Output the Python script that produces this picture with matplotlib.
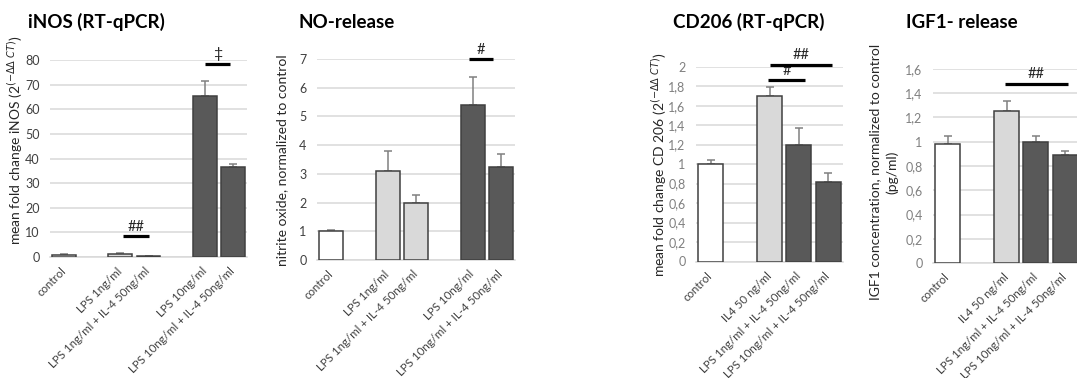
import numpy as np
import matplotlib.pyplot as plt

plt.rcParams['font.family'] = ['Lato', 'DejaVu Sans']

W, H = 1077, 378

# iNOS (RT-qPCR)
inos_labels = ['control', '', 'LPS 1ng/ml', 'LPS 1ng/ml + IL-4 50ng/ml', '',
               'LPS 10ng/ml', 'LPS 10ng/ml + IL-4 50ng/ml']
inos_mean = [1.0, np.nan, 1.3, 0.5, np.nan, 65.3, 36.5]
inos_err = [0.3, np.nan, 0.2, 0.1, np.nan, 6.2, 1.3]
inos_sig = [(2.1, 3.0, 8.5, '##'), (5.0, 5.9, 78.5, '‡')]

# NO-release
no_labels = inos_labels
no_mean = [1.0, np.nan, 3.1, 2.0, np.nan, 5.4, 3.25]
no_err = [0.04, np.nan, 0.68, 0.25, np.nan, 0.98, 0.45]
no_sig = [(4.86, 5.72, 7.0, '#')]

# CD206 (RT-qPCR)
cd_labels = ['control', '', 'IL4 50 ng/ml', 'LPS 1ng/ml + IL-4 50ng/ml',
             'LPS 10ng/ml + IL-4 50ng/ml']
cd_mean = [1.0, np.nan, 1.7, 1.2, 0.82]
cd_err = [0.04, np.nan, 0.09, 0.17, 0.09]
cd_sig = [(1.95, 3.2, 1.86, '#'), (2.02, 4.13, 2.02, '##')]

# IGF1- release
igf_labels = cd_labels
igf_mean = [0.98, np.nan, 1.25, 1.0, 0.89]
igf_err = [0.07, np.nan, 0.09, 0.05, 0.03]
igf_sig = [(1.95, 4.09, 1.48, '##')]

WHITE, LIGHT, DARK = '#ffffff', '#d9d9d9', '#595959'
cols7 = [WHITE, WHITE, LIGHT, LIGHT, WHITE, DARK, DARK]
cols5 = [WHITE, WHITE, LIGHT, DARK, DARK]

fig = plt.figure(figsize=(W / 100, H / 100), dpi=100)


def panel(px, labels, mean, err, colors, ymax, step, sig, tickcol, comma=False):
    l, r, y0, y1 = px
    ax = fig.add_axes([l / W, 1 - y0 / H, (r - l) / W, (y0 - y1) / H])
    x = np.arange(len(labels))
    ax.bar(x, mean, width=0.85, color=colors, edgecolor='#404040',
           linewidth=1.1, zorder=3)
    e = np.array(err)
    ax.errorbar(x, mean, yerr=[np.zeros_like(e), e], fmt='none',
                ecolor='#808080', elinewidth=1.1, capsize=3, capthick=1.1,
                zorder=2)
    ax.set_xlim(-0.5, len(labels) - 0.5)
    ax.set_ylim(0, ymax)
    ticks = np.arange(0, ymax + step / 2, step)
    ax.set_yticks(ticks)
    if comma:
        ax.set_yticklabels([f'{t:.1f}'.rstrip('0').rstrip('.').replace('.', ',')
                            for t in ticks])
    else:
        ax.set_yticklabels([f'{t:g}' for t in ticks])
    ax.grid(axis='y', color='#d9d9d9', linewidth=1.1, zorder=0)
    ax.set_axisbelow(True)
    for s in ['top', 'left', 'right']:
        ax.spines[s].set_visible(False)
    ax.spines['bottom'].set_color('#d9d9d9')
    ax.spines['bottom'].set_linewidth(1.1)
    ax.tick_params(length=0, labelsize=9)
    ax.tick_params(axis='y', pad=7.5, colors=tickcol)
    ax.set_xticks(x)
    ax.set_xticklabels(labels, rotation=45, ha='right', va='center',
                       rotation_mode='anchor', fontsize=8.3, color='#404040')
    ax.tick_params(axis='x', pad=9)
    for a, b, y, t in sig:
        ax.plot([a, b], [y, y], color='black', linewidth=2.3,
                solid_capstyle='butt', clip_on=False, zorder=4)
        ax.text((a + b) / 2, y + ymax * 0.012, t, ha='center', va='bottom',
                fontsize=11.5 if t == '‡' else 10.5, color='#262626',
                clip_on=False)
    return ax


panel((50, 247, 257, 60), inos_labels, inos_mean, inos_err, cols7, 80, 10,
      inos_sig, '#404040')
panel((317, 515, 260, 59), no_labels, no_mean, no_err, cols7, 7, 1,
      no_sig, '#404040')
panel((696, 843, 261.5, 66.7), cd_labels, cd_mean, cd_err, cols5, 2, 0.2,
      cd_sig, '#808080', comma=True)
panel((933, 1080, 263, 69), igf_labels, igf_mean, igf_err, cols5, 1.6, 0.2,
      igf_sig, '#808080', comma=True)


def ftext(x, y, s, **kw):
    fig.text(x / W, 1 - y / H, s, **kw)


tkw = dict(fontsize=13.5, fontweight='bold', ha='left', va='center', color='black')
ftext(28, 22, 'iNOS (RT-qPCR)', **tkw)
ftext(298, 22, 'NO-release', **tkw)
ftext(673, 22, 'CD206 (RT-qPCR)', **tkw)
ftext(906, 22, 'IGF1- release', **tkw)

lkw = dict(fontsize=10, rotation=90, ha='center', va='center', color='#262626')
ftext(15, 140, r'mean fold change iNOS (2$^{(-\Delta\Delta\ CT)}$)', **lkw)
ftext(282, 160, 'nitrite oxide, normalized to control', **lkw)
ftext(659, 165, r'mean fold change CD 206 (2$^{(-\Delta\Delta\ CT)}$)', **lkw)
ftext(884, 172, 'IGF1 concentration, normalized to control\n(pg/ml)',
      linespacing=1.45, **lkw)

fig.savefig('out.png', dpi=100)
